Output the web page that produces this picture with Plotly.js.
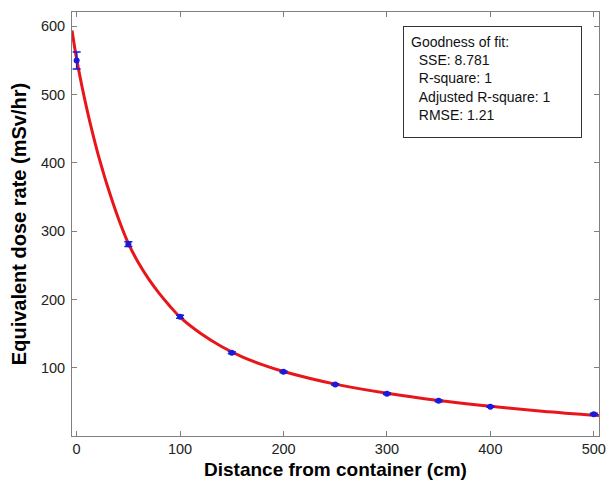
<!DOCTYPE html>
<html>
<head>
<meta charset="utf-8">
<script src="https://cdn.plot.ly/plotly-3.0.1.min.js"></script>
<style>html,body{margin:0;padding:0;background:#fff;}#chart{width:606px;height:487px;}</style>
</head>
<body>
<div id="chart"></div>
<script>
// Measured data points (distance cm, dose rate mSv/hr, error)
const distance = [0, 50, 100, 150, 200, 250, 300, 350, 400, 500];
const doseRate = [550, 281, 174.5, 122, 94, 75.5, 62, 51.5, 43, 32];
const doseError = [12.5, 3.5, 2.2, 1.5, 1.2, 1.2, 1.2, 1.2, 1, 1.2];

// Fitted curve
const fitX = [-4.5, 0, 5, 10, 15, 20, 25, 30, 40, 50, 60, 70, 80, 90, 100, 120, 140, 160, 180, 200, 250, 300, 350, 400, 450, 505];
const fitY = [594, 552, 513, 478, 446, 416.5, 390, 365, 320, 282, 253, 229, 208.5, 190.5, 174, 150, 131, 116, 104.3, 94.5, 76, 62.6, 52, 43.5, 36.4, 30];

const xTicks = [0, 100, 200, 300, 400, 500];
const yTicks = [100, 200, 300, 400, 500, 600];

const fitText = ["Goodness of fit:", "\u00a0\u00a0SSE: 8.781", "\u00a0\u00a0R-square: 1", "\u00a0\u00a0Adjusted R-square: 1", "\u00a0\u00a0RMSE: 1.21"];

const FONT = 'Liberation Sans, Arial, sans-serif';

const traces = [
  {
    x: fitX, y: fitY, mode: 'lines', type: 'scatter',
    line: {color: '#e8161b', width: 3, shape: 'spline', smoothing: 1},
    hoverinfo: 'skip', showlegend: false
  },
  {
    x: distance, y: doseRate, mode: 'markers', type: 'scatter',
    marker: {color: '#1a1adb', size: 6},
    error_y: {type: 'data', array: doseError, visible: true, color: '#1a1adb', thickness: 1.5, width: 4},
    showlegend: false
  }
];

const axisCommon = {
  showline: true, linecolor: '#808080', linewidth: 1, mirror: 'ticks',
  ticks: 'inside', ticklen: 5, tickcolor: '#808080', tickwidth: 1,
  showgrid: false, zeroline: false,
  tickfont: {family: FONT, size: 14.5, color: '#222'}
};

const layout = {
  width: 606, height: 487,
  margin: {l: 72, r: 7, t: 12, b: 51},
  paper_bgcolor: '#fff', plot_bgcolor: '#fff',
  xaxis: Object.assign({}, axisCommon, {
    range: [-4.5, 505], tickvals: xTicks, ticktext: xTicks.map(String),
    title: {text: 'Distance from container (cm)', font: {family: FONT, size: 19, color: '#000', weight: 'bold'}, standoff: 6}
  }),
  yaxis: Object.assign({}, axisCommon, {
    range: [0, 621], tickvals: yTicks, ticktext: yTicks.map(String), ticklabelstandoff: 3,
    title: {text: 'Equivalent dose rate (mSv/hr)', font: {family: FONT, size: 20, color: '#000', weight: 'bold'}, standoff: 8}
  }),
  annotations: [{
    xref: 'paper', yref: 'paper', x: 0.628, y: 0.967, xanchor: 'left', yanchor: 'top',
    text: fitText.join('<br>'), showarrow: false, align: 'left',
    width: 163, height: 96, valign: 'top',
    bordercolor: '#333', borderwidth: 1, borderpad: 7, bgcolor: '#fff',
    font: {family: FONT, size: 14, color: '#111'}
  }]
};

Plotly.newPlot('chart', traces, layout, {displayModeBar: false, staticPlot: true});
</script>
</body>
</html>
